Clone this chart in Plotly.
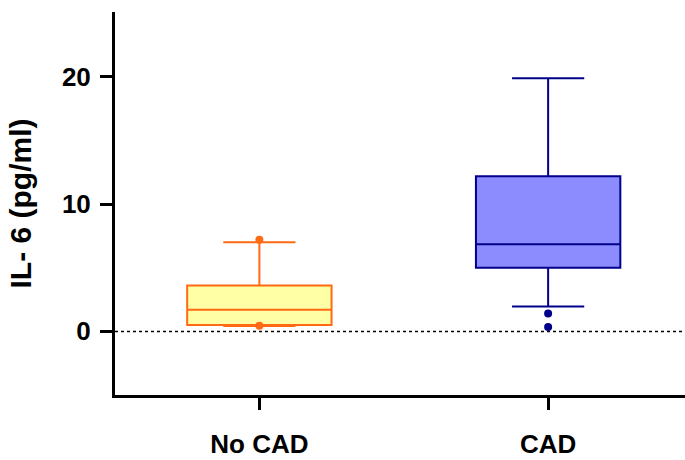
import plotly.graph_objects as go

# IL-6 summary statistics per group (pg/ml)
groups = ["No CAD", "CAD"]
lower_whisker = [0.42, 1.95]
q1 = [0.5, 5.0]
median = [1.7, 6.85]
q3 = [3.6, 12.2]
upper_whisker = [7.0, 19.9]
outlier_group = ["No CAD", "No CAD", "CAD", "CAD"]
outlier_values = [7.2, 0.45, 1.4, 0.35]

fill_colors = ["#FFFFA6", "#8C8CFF"]
line_colors = ["#FF6A13", "#00008B"]

fig = go.Figure()
for i, g in enumerate(groups):
    fig.add_trace(go.Box(
        x=[g],
        q1=[q1[i]], median=[median[i]], q3=[q3[i]],
        lowerfence=[lower_whisker[i]], upperfence=[upper_whisker[i]],
        fillcolor=fill_colors[i],
        line=dict(color=line_colors[i], width=2),
        width=0.5, whiskerwidth=0.5,
        boxpoints=False, showlegend=False, hoverinfo="skip",
    ))

# Individual points beyond the whiskers
for i, g in enumerate(groups):
    ys = [v for gg, v in zip(outlier_group, outlier_values) if gg == g]
    fig.add_trace(go.Scatter(
        x=[g] * len(ys), y=ys, mode="markers",
        marker=dict(color=line_colors[i], size=8),
        showlegend=False, hoverinfo="skip",
    ))

# Dotted reference line at zero
fig.add_shape(type="line", xref="paper", yref="y", x0=0, x1=1, y0=0, y1=0,
              line=dict(color="black", width=1.5, dash="dot"), layer="below")

family = "Liberation Sans, Arial, sans-serif"
tick_font = dict(family=family, size=26, color="black", weight="bold")

fig.update_layout(
    width=685, height=460,
    margin=dict(l=115, r=0, t=12, b=65),
    plot_bgcolor="white", paper_bgcolor="white",
    xaxis=dict(
        type="category", categoryorder="array", categoryarray=groups,
        range=[-0.5, 1.474],
        showline=True, linecolor="black", linewidth=3,
        ticks="outside", ticklen=12, tickwidth=3, tickcolor="black",
        showgrid=False, zeroline=False,
        tickfont=tick_font, ticklabelstandoff=12,
    ),
    yaxis=dict(
        range=[-5, 25.1], tickvals=[0, 10, 20],
        showline=True, linecolor="black", linewidth=3,
        ticks="outside", ticklen=12, tickwidth=3, tickcolor="black",
        showgrid=False, zeroline=False,
        tickfont=tick_font, ticklabelstandoff=4,
        title=dict(text="IL- 6 (pg/ml)",
                   font=dict(family=family, size=30, color="black", weight="bold"),
                   standoff=22),
    ),
)

fig.write_html("out.html")
